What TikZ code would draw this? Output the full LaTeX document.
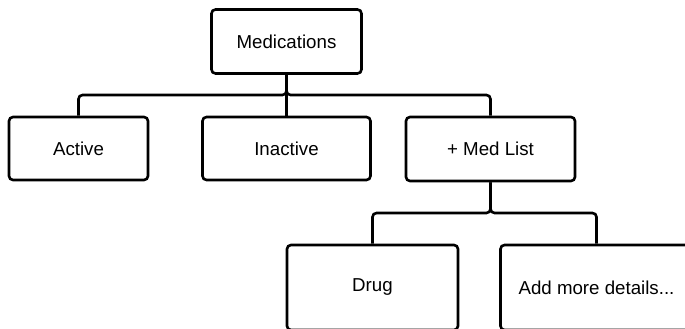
\documentclass[tikz,border=0pt]{standalone}
\usepackage{fontspec}
\setmainfont{Liberation Sans}
\begin{document}
\begin{tikzpicture}[x=1pt,y=-1pt,
  box/.style={draw=black,line width=2.6pt,rounded corners=4pt,fill=white,inner sep=0pt,
    font=\fontsize{18.7}{22}\selectfont,text=black},
  conn/.style={draw=black,line width=2.6pt,rounded corners=4pt}]
\useasboundingbox (0,0) rectangle (685,329);
\clip (0,0) rectangle (685,329);
\node[box,minimum width=150pt,minimum height=64pt] (med) at (286.5,41.5) {Medications};
\node[box,minimum width=139pt,minimum height=63pt] (active) at (78.5,148.5) {Active};
\node[box,minimum width=168pt,minimum height=63pt] (inactive) at (286.5,148.5) {Inactive};
\node[box,minimum width=169pt,minimum height=64pt] (medlist) at (490.5,149) {+ Med List};
\node[box,minimum width=171pt,minimum height=85pt] (drug) at (372.5,287.5) {Drug};
\node[box,minimum width=192pt,minimum height=85pt] (add) at (596.5,287.5) {Add more details...};
\coordinate (j1) at (med.south |- 0,95);
\coordinate (j2) at (medlist.south |- 0,213);
\draw[conn] (active.north) |- (j1) -- (med.south);
\draw[conn] (medlist.north) |- (j1) -- (med.south);
\draw[conn,rounded corners=0pt] (inactive.north) -- (med.south);
\draw[conn] (drug.north) |- (j2) -- (medlist.south);
\draw[conn] (add.north) |- (j2) -- (medlist.south);
\end{tikzpicture}
\end{document}
